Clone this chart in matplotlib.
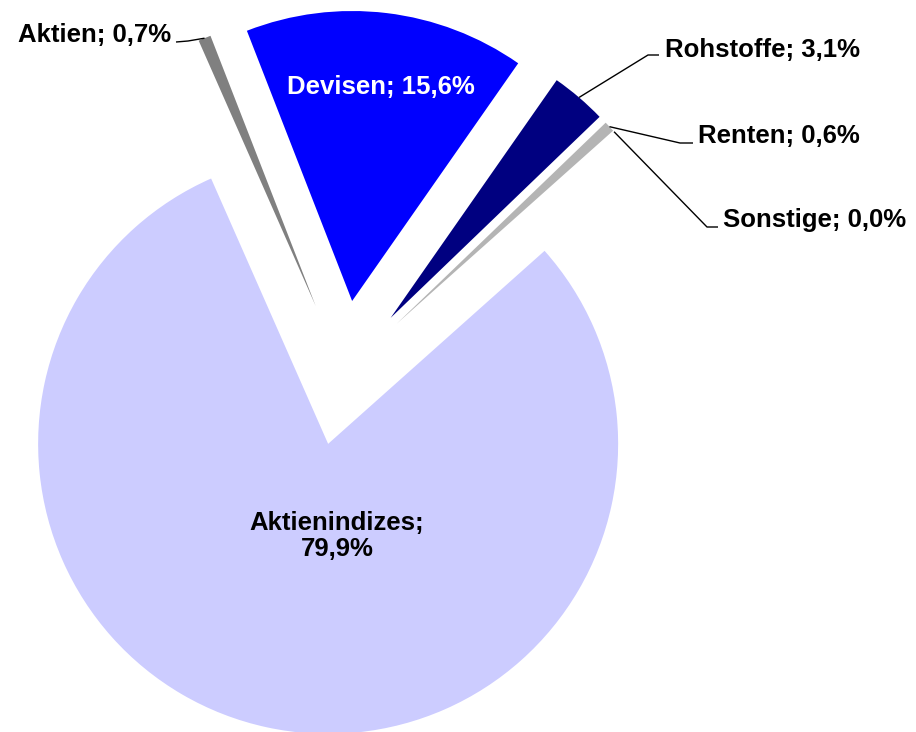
import matplotlib
matplotlib.use("Agg")
import matplotlib.pyplot as plt
import numpy as np

categories = ["Aktien", "Devisen", "Rohstoffe", "Renten", "Sonstige", "Aktienindizes"]
values = [0.7, 15.6, 3.1, 0.6, 0.0, 79.9]
colors = ["#808080", "#0000FF", "#000080", "#B4B4B4", "#FFFFFF", "#CCCCFF"]

W, H = 916, 732
CX, CY, R = 343.5, 373.0, 290.0  # pixel center / radius of the (unexploded) pie

plt.rcParams["font.family"] = ["Liberation Sans", "DejaVu Sans"]

fig = plt.figure(figsize=(W / 100, H / 100), dpi=100)
ax = fig.add_axes([0, 0, 1, 1])

wedges, _ = ax.pie(values, colors=colors, startangle=113.8, counterclock=False,
                   explode=[0.25] * len(values), radius=1.0,
                   wedgeprops=dict(linewidth=0))
ax.set_aspect("auto")
ax.set_xlim(-CX / R, (W - CX) / R)
ax.set_ylim((CY - H) / R, CY / R)
ax.axis("off")


def px(x, y):
    return ((x - CX) / R, (CY - y) / R)


def label_text(v):
    return f"{v:.1f}".replace(".", ",") + "%"


fs = 18.5
# outside labels with leader lines: (index, text anchor px, ha, elbow px, end px)
outside = [
    (0, (171, 42), "right", (188, 41), (176, 42)),
    (2, (665, 57), "left", (648, 55), (659, 55)),
    (3, (698, 143), "left", (680, 143), (693, 143)),
    (4, (723, 227), "left", (707, 227), (718, 227)),
]
for i, tpos, ha, elbow, end in outside:
    w = wedges[i]
    mid = np.deg2rad((w.theta1 + w.theta2) / 2)
    cx, cy = w.center
    sx, sy = cx + w.r * np.cos(mid), cy + w.r * np.sin(mid)
    ex, ey = px(*elbow)
    nx, ny = px(*end)
    ax.plot([sx, ex, nx], [sy, ey, ny], color="black", lw=1.0, solid_capstyle="butt")
    tx, ty = px(*tpos)
    ax.text(tx, ty, f"{categories[i]}; {label_text(values[i])}", ha=ha, va="baseline",
            fontsize=fs, fontweight="bold", color="black")

# inside labels
tx, ty = px(381, 94)
ax.text(tx, ty, f"{categories[1]}; {label_text(values[1])}", ha="center", va="baseline",
        fontsize=fs, fontweight="bold", color="white")
tx, ty = px(337, 530)
ax.text(tx, ty, f"{categories[5]};", ha="center", va="baseline",
        fontsize=fs, fontweight="bold", color="black")
tx, ty = px(337, 556)
ax.text(tx, ty, label_text(values[5]), ha="center", va="baseline",
        fontsize=fs, fontweight="bold", color="black")

fig.savefig("out.png", dpi=100)
